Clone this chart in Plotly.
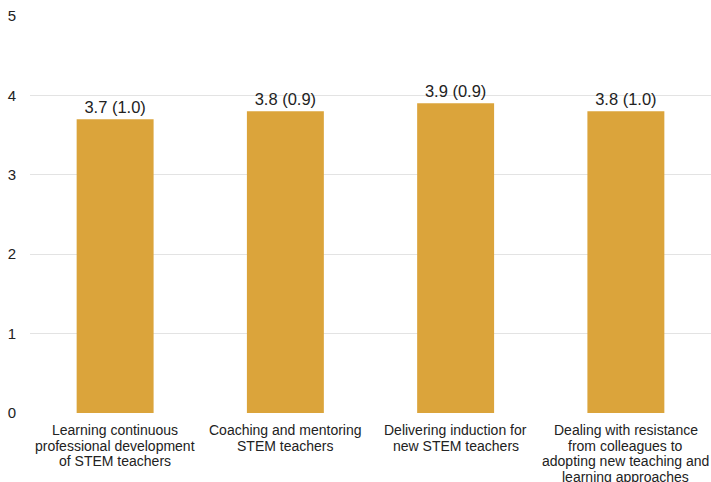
import plotly.graph_objects as go

categories = [
    "Learning continuous<br>professional development<br>of STEM teachers",
    "Coaching and mentoring<br>STEM teachers",
    "Delivering induction for<br>new STEM teachers",
    "Dealing with resistance<br>from colleagues to<br>adopting new teaching and<br>learning approaches",
]
means = [3.7, 3.8, 3.9, 3.8]
sds = [1.0, 0.9, 0.9, 1.0]
y_ticks = [0, 1, 2, 3, 4, 5]

labels = [f"{m:.1f} ({s:.1f})" for m, s in zip(means, sds)]
xpos = list(range(len(categories)))

fig = go.Figure()
fig.add_trace(go.Bar(
    x=xpos, y=means, text=labels, textposition="outside",
    textfont=dict(size=16.5, color="#222222", family="Liberation Sans, Arial"),
    marker=dict(color="#DBA43B", line=dict(width=0)),
    cliponaxis=False,
))

# category labels, one annotation per line for tight line spacing
annotations = []
for i, cat in enumerate(categories):
    for j, line in enumerate(cat.split("<br>")):
        annotations.append(dict(
            x=i, y=0, xref="x", yref="paper", text=line, showarrow=False,
            yanchor="middle", xanchor="center", yshift=-17 - 15.6 * j,
            font=dict(size=14, color="#222222", family="Liberation Sans, Arial"),
        ))

fig.update_layout(
    width=711, height=482,
    margin=dict(l=30, r=0, t=16, b=69),
    paper_bgcolor="white", plot_bgcolor="white",
    bargap=0.548, showlegend=False,
    annotations=annotations,
    font=dict(family="Liberation Sans, Arial", size=14, color="#222222"),
)
fig.update_xaxes(range=[-0.5, 3.5], tickvals=xpos, showticklabels=False,
                 showgrid=False, zeroline=False, showline=False)
fig.update_yaxes(range=[0, 5], tickvals=y_ticks, showgrid=True,
                 gridcolor="#E3E3E3", gridwidth=1, zeroline=False,
                 showline=False, ticks="", ticklabelstandoff=13,
                 tickfont=dict(size=15, color="#222222"))
fig.write_html("out.html")
